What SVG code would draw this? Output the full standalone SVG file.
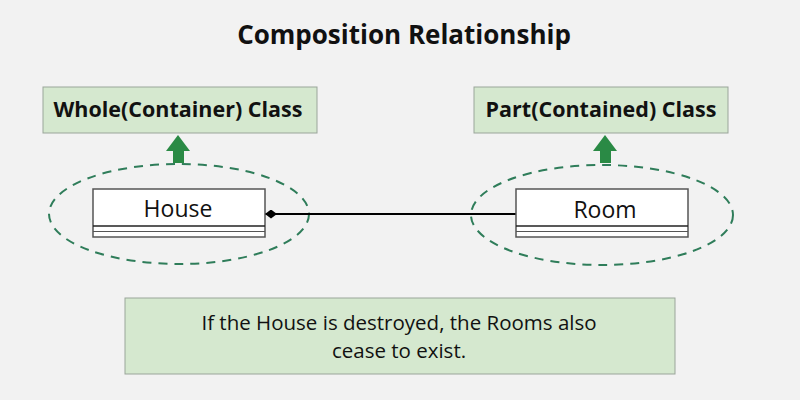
<svg xmlns="http://www.w3.org/2000/svg" width="800" height="400" viewBox="0 0 800 400">
<defs>
<style>
.lbl{fill:#d5e8cf;stroke:#9aa59a;stroke-width:1}
.lt{font-family:"Open Sans","Noto Sans",sans-serif;font-weight:bold;font-size:21.5px;fill:#111;text-anchor:middle}
.cls{fill:#fff;stroke:#555;stroke-width:1.5}
.ct{font-family:"Open Sans","Noto Sans",sans-serif;font-size:23px;fill:#111;text-anchor:middle}
.ell{fill:none;stroke:#2f7d5a;stroke-width:2;stroke-dasharray:9 7}
.up{fill:#2a8a45}
.nt{font-family:"Open Sans","Noto Sans",sans-serif;font-size:20.5px;fill:#111;text-anchor:middle}
</style>
<marker id="dia" viewBox="0 0 12 9" refX="0" refY="4.5" markerWidth="12" markerHeight="9" markerUnits="userSpaceOnUse" orient="auto">
<path d="M0,4.5 L6,0 L12,4.5 L6,9 Z" fill="#000"/>
</marker>
</defs>
<rect width="800" height="400" fill="#f2f2f2"/>
<text x="404" y="44" font-family="'Open Sans','Noto Sans',sans-serif" font-weight="bold" font-size="26" fill="#111" text-anchor="middle">Composition Relationship</text>
<g id="whole-label">
<rect class="lbl" x="43" y="87" width="274" height="46"/>
<text class="lt" x="178" y="117">Whole(Container) Class</text>
</g>
<g id="part-label">
<rect class="lbl" x="474" y="87" width="254" height="46"/>
<text class="lt" x="601" y="117">Part(Contained) Class</text>
</g>
<g id="arrows-up">
<path class="up" d="M178,135 L190,151 L184,151 L184,163 L173,163 L173,151 L166,151 Z"/>
<path class="up" d="M605,135 L617,151 L611,151 L611,163 L600,163 L600,151 L593,151 Z"/>
</g>
<g id="whole-group">
<ellipse class="ell" cx="179" cy="214" rx="130" ry="50"/>
</g>
<g id="part-group">
<ellipse class="ell" cx="602" cy="215" rx="131" ry="50"/>
</g>
<g id="connectors">
<line x1="265" y1="214" x2="516" y2="214" stroke="#000" stroke-width="2" marker-start="url(#dia)"/>
</g>
<g id="house">
<rect class="cls" x="93" y="189" width="172" height="48"/>
<line x1="93" y1="226" x2="265" y2="226" stroke="#222" stroke-width="1.5"/>
<line x1="93" y1="231.5" x2="265" y2="231.5" stroke="#555" stroke-width="1"/>
<text class="ct" x="178" y="217">House</text>
</g>
<g id="room">
<rect class="cls" x="516" y="189" width="172" height="48"/>
<line x1="516" y1="226" x2="688" y2="226" stroke="#222" stroke-width="1.5"/>
<line x1="516" y1="231.5" x2="688" y2="231.5" stroke="#555" stroke-width="1"/>
<text class="ct" x="605" y="218">Room</text>
</g>
<g id="note">
<rect class="lbl" x="125" y="298" width="550" height="76"/>
<text class="nt" x="399" y="330">If the House is destroyed, the Rooms also</text>
<text class="nt" x="399" y="358">cease to exist.</text>
</g>
</svg>
